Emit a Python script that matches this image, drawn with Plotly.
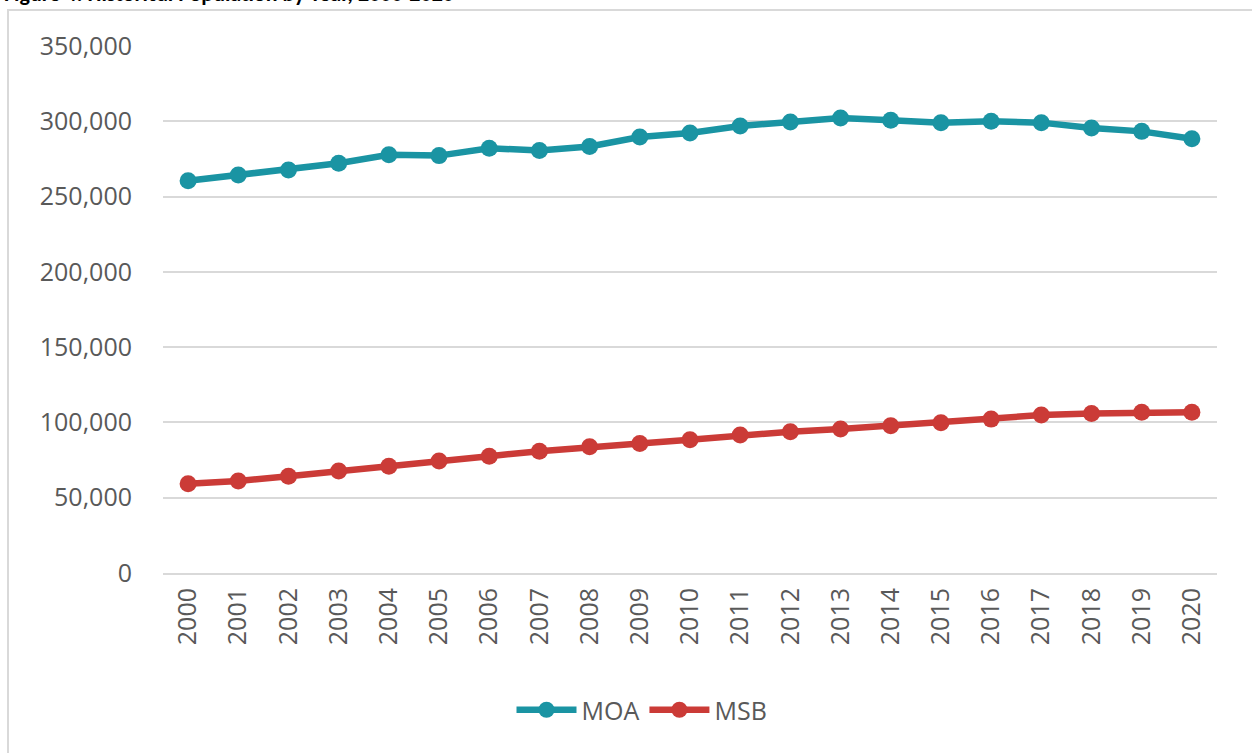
import plotly.graph_objects as go

years = [str(y) for y in range(2000, 2021)]
moa = [260500, 264300, 267600, 272100, 277700, 277200, 282100, 280600, 283300, 289500,
       292200, 296900, 299600, 302200, 300700, 299100, 300000, 299100, 295600, 293300, 288400]
msb = [59300, 61100, 64200, 67800, 70900, 74400, 77600, 80900, 83800, 86000,
       88500, 91600, 93800, 95600, 97800, 99800, 102200, 104900, 106000, 106700, 106700]
y_ticks = [0, 50000, 100000, 150000, 200000, 250000, 300000, 350000]
y_labels = ["0", "50,000", "100,000", "150,000", "200,000", "250,000", "300,000", "350,000"]
title_text = "Figure 4: Historical Population by Year, 2000-2020"

TEAL = "#1A94A3"
RED = "#CB3B37"
FONT = "Open Sans, Lato, sans-serif"

L, R, T, B = 163, 35, 46, 180
W, H = 1252, 753
pw, ph = W - L - R, H - T - B

def px_to_paper_x(px):
    return (px - L) / pw

def px_to_paper_y(py):
    return (H - B - py) / ph

fig = go.Figure()
fig.add_trace(go.Scatter(x=years, y=moa, name="MOA", mode="lines+markers",
                         line=dict(color=TEAL, width=6.5), marker=dict(color=TEAL, size=17)))
fig.add_trace(go.Scatter(x=years, y=msb, name="MSB", mode="lines+markers",
                         line=dict(color=RED, width=6.5), marker=dict(color=RED, size=17)))

fig.update_layout(
    width=W, height=H,
    margin=dict(l=L, r=R, t=T, b=B),
    paper_bgcolor="white", plot_bgcolor="white",
    font=dict(family=FONT, color="#595959"),
    showlegend=True,
    legend=dict(orientation="h", x=px_to_paper_x(642), xanchor="center",
                y=px_to_paper_y(710), yanchor="middle",
                font=dict(size=25, color="#595959"), itemwidth=60, traceorder="normal"),
    xaxis=dict(type="category", range=[-0.5, 20.5], tickangle=-90,
               tickfont=dict(size=25, color="#595959"), showgrid=False,
               showline=True, linecolor="#D9D9D9", linewidth=2,
               ticks="outside", ticklen=3, tickcolor="rgba(0,0,0,0)"),
    yaxis=dict(range=[0, 350000], tickvals=y_ticks, ticktext=y_labels,
               tickfont=dict(size=25, color="#595959"), showgrid=True,
               gridcolor="#D9D9D9", gridwidth=2, zeroline=False,
               ticks="outside", ticklen=25, tickcolor="rgba(0,0,0,0)"),
)

fig.add_shape(type="rect", xref="paper", yref="paper",
              x0=px_to_paper_x(8), x1=px_to_paper_x(1300),
              y0=px_to_paper_y(800), y1=px_to_paper_y(10),
              line=dict(color="#D9D9D9", width=2), layer="below")

fig.add_annotation(text="<b>" + title_text + "</b>", xref="paper", yref="paper",
                   x=px_to_paper_x(2), xanchor="left",
                   y=px_to_paper_y(9), yanchor="bottom", showarrow=False,
                   font=dict(size=22, color="black", family="Carlito, Liberation Sans, sans-serif"))

fig.write_html("out.html", config={"displayModeBar": False},
               post_script="document.body.style.margin='0';")
